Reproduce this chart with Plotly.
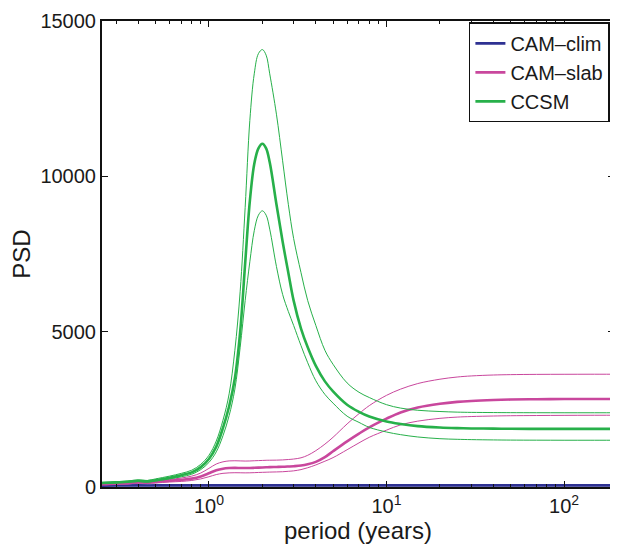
import plotly.graph_objects as go

# ---------------- data ----------------
period = [0.25, 0.3, 0.35, 0.4, 0.45, 0.5, 0.6, 0.7, 0.8, 0.9, 1.0, 1.1, 1.2, 1.3, 1.4,
          1.5, 1.6, 1.7, 1.8, 1.9, 2.0, 2.1, 2.2, 2.4, 2.6, 2.8, 3.0, 3.3, 3.6, 4.0,
          4.5, 5, 6, 7, 8, 10, 12, 15, 20, 25, 30, 40, 50, 70, 100, 140, 190]

ccsm_mean = [130, 150, 170, 200, 180, 220, 300, 380, 470, 640, 900, 1300, 1900, 2600, 3500,
             5000, 7200, 9200, 10400, 10900, 11050, 10900, 10450, 9100, 7900, 6900, 6000, 5100, 4500, 3900,
             3400, 3080, 2650, 2420, 2270, 2110, 2030, 1960, 1915, 1895, 1885, 1878, 1874, 1871, 1870, 1870, 1870]
ccsm_upper = [150, 170, 195, 230, 210, 260, 350, 440, 540, 730, 1020, 1480, 2150, 3000, 4400,
              6300, 9000, 11800, 13300, 13950, 14080, 13900, 13300, 12000, 10500, 9100, 8000, 6900, 6000, 5200,
              4400, 3950, 3350, 3050, 2880, 2650, 2540, 2470, 2430, 2410, 2402, 2396, 2393, 2391, 2390, 2390, 2390]
ccsm_lower = [110, 130, 150, 175, 160, 190, 260, 330, 410, 560, 790, 1130, 1650, 2300, 3150,
              4500, 6000, 7250, 8250, 8750, 8890, 8750, 8300, 7100, 6200, 5650, 5200, 4550, 4000, 3420,
              2980, 2700, 2280, 2080, 1920, 1770, 1685, 1610, 1555, 1535, 1525, 1515, 1510, 1507, 1505, 1505, 1505]

slab_mean = [90, 110, 120, 150, 140, 160, 200, 230, 270, 340, 440, 540, 590, 610, 615,
             612, 610, 612, 618, 625, 630, 635, 640, 645, 650, 660, 670, 690, 730, 810,
             960, 1150, 1470, 1720, 1920, 2200, 2400, 2560, 2680, 2740, 2770, 2800, 2815, 2825, 2832, 2835, 2835]
slab_upper = [110, 130, 140, 175, 165, 190, 240, 290, 350, 450, 600, 740, 810, 840, 845,
              840, 835, 838, 845, 850, 855, 860, 862, 865, 872, 885, 900, 940, 1020, 1170,
              1380, 1600, 2030, 2360, 2620, 2950, 3150, 3330, 3470, 3540, 3575, 3605, 3617, 3625, 3628, 3630, 3630]
slab_lower = [70, 90, 100, 125, 115, 130, 160, 180, 210, 260, 330, 400, 440, 455, 460,
              458, 455, 457, 462, 468, 472, 476, 480, 485, 492, 505, 520, 560, 620, 710,
              830, 945, 1200, 1420, 1600, 1830, 2000, 2120, 2210, 2250, 2268, 2285, 2294, 2301, 2306, 2309, 2310]

clim_mean = [45, 48, 50, 52, 50, 52, 53, 52, 52, 53, 53, 53, 53, 53, 53,
             53, 53, 53, 53, 53, 53, 53, 53, 53, 53, 53, 53, 53, 53, 53,
             53, 53, 53, 53, 53, 53, 53, 53, 53, 53, 53, 53, 53, 53, 53, 53, 53]
clim_upper = [v + 12 for v in clim_mean]
clim_lower = [v - 10 for v in clim_mean]

x_tickvals = [1, 10, 100]
x_ticktext = ["10<sup>0</sup>", "10<sup>1</sup>", "10<sup>2</sup>"]
x_minor = [0.3, 0.4, 0.5, 0.6, 0.7, 0.8, 0.9, 2, 3, 4, 5, 6, 7, 8, 9,
           20, 30, 40, 50, 60, 70, 80, 90]
y_tickvals = [0, 5000, 10000, 15000]
y_ticktext = ["0", "5000", "10000", "15000"]

series = [
    ("CAM\u2013clim", "#2E3192", clim_mean, clim_upper, clim_lower),
    ("CAM\u2013slab", "#C9479D", slab_mean, slab_upper, slab_lower),
    ("CCSM", "#27B04A", ccsm_mean, ccsm_upper, ccsm_lower),
]

fig = go.Figure()
for name, color, mean, up, lo in series:
    for vals in (up, lo):
        fig.add_trace(go.Scatter(x=period, y=vals, mode="lines", line=dict(color=color, width=1, shape="spline"),
                                 showlegend=False, hoverinfo="skip", legendgroup=name))
    fig.add_trace(go.Scatter(x=period, y=mean, mode="lines", name=name, legendgroup=name,
                             line=dict(color=color, width=2.6, shape="spline")))

font = dict(family="Liberation Sans, Arial, Helvetica, sans-serif", size=20, color="#1a1a1a")

# the page body adds an 8px offset, so the figure is sized/margined to compensate
fig.update_layout(
    width=610, height=538,
    margin=dict(l=94, r=2, t=8, b=59),
    paper_bgcolor="white", plot_bgcolor="white",
    font=font,
    showlegend=True,
    legend=dict(x=0.992, y=0.997, xanchor="right", yanchor="top",
                bgcolor="white", bordercolor="#111", borderwidth=1.5,
                font=dict(size=20), itemwidth=30, tracegroupgap=0),
)
fig.update_xaxes(type="log", range=[-0.602, 2.281],
                 tickmode="array", tickvals=x_tickvals, ticktext=x_ticktext,
                 ticks="inside", ticklen=6, tickwidth=1, tickcolor="#111",
                 minor=dict(tickvals=x_minor, ticks="inside", ticklen=3, tickcolor="#111", tickwidth=1),
                 showline=True, linecolor="#111", linewidth=2, mirror="ticks",
                 showgrid=False, zeroline=False, ticklabeloverflow="allow",
                 title=dict(text="period (years)", standoff=2))
fig.update_yaxes(range=[0, 15000],
                 tickmode="array", tickvals=y_tickvals, ticktext=y_ticktext,
                 ticks="inside", ticklen=6, tickwidth=1, tickcolor="#111",
                 showline=True, linecolor="#111", linewidth=2, mirror="ticks",
                 showgrid=False, zeroline=False, ticklabeloverflow="allow",
                 title=dict(text="PSD", standoff=10))

fig.write_html("out.html")
